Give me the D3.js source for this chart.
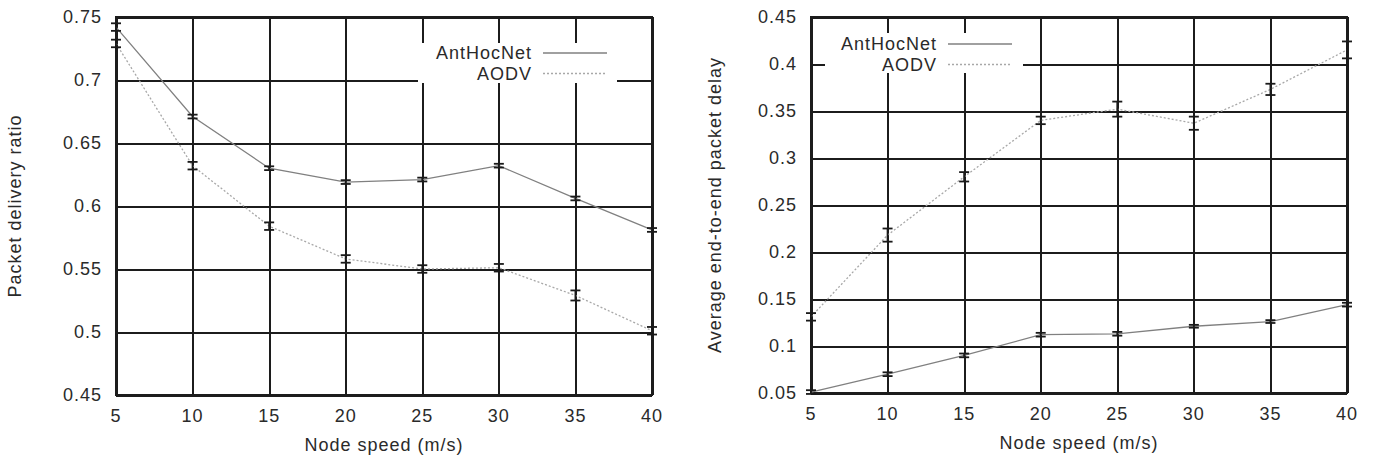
<!DOCTYPE html>
<html>
<head>
<meta charset="UTF-8">
<title>AntHocNet vs AODV</title>
<script src="https://cdn.jsdelivr.net/npm/d3@7"></script>
<style>
    body { margin: 0; background: #fff; }
    svg text {
        font-family: "Liberation Sans", Arial, sans-serif;
        font-size: 18px;
        letter-spacing: 1px;
        fill: #2a2a2a;
    }
    .grid line { stroke: #1c1c1c; stroke-width: 2px; shape-rendering: crispEdges; }
    .grid path { display: none; }
    .frame { fill: none; stroke: #1c1c1c; stroke-width: 2px; shape-rendering: crispEdges; }
    .ant { fill: none; stroke: #808080; stroke-width: 1.3px; }
    .aodv { fill: none; stroke: #a8a8a8; stroke-width: 1.3px; stroke-dasharray: 2,2; }
    .err { stroke: #1a1a1a; stroke-width: 1.8px; fill: none; }
</style>
</head>
<body>
<script>
    // node speed (m/s)
    var speeds = [5, 10, 15, 20, 25, 30, 35, 40];

    // packet delivery ratio
    var pdrAnt = [0.742, 0.671, 0.630, 0.619, 0.621, 0.632, 0.606, 0.581];
    var pdrAntErr = [0.003, 0.0015, 0.0015, 0.0015, 0.0015, 0.0015, 0.0015, 0.0015];
    var pdrAodv = [0.729, 0.632, 0.584, 0.558, 0.550, 0.551, 0.529, 0.501];
    var pdrAodvErr = [0.003, 0.003, 0.003, 0.003, 0.003, 0.003, 0.004, 0.003];
    var pdrTicks = [0.45, 0.5, 0.55, 0.6, 0.65, 0.7, 0.75];

    // average end-to-end packet delay
    var delayAnt = [0.051, 0.070, 0.090, 0.112, 0.113, 0.121, 0.126, 0.144];
    var delayAntErr = [0.002, 0.002, 0.002, 0.002, 0.002, 0.0015, 0.0015, 0.002];
    var delayAodv = [0.131, 0.218, 0.280, 0.340, 0.352, 0.337, 0.373, 0.415];
    var delayAodvErr = [0.004, 0.007, 0.005, 0.004, 0.008, 0.007, 0.006, 0.009];
    var delayTicks = [0.05, 0.1, 0.15, 0.2, 0.25, 0.3, 0.35, 0.4, 0.45];

    var seriesNames = ["AntHocNet", "AODV"];

    var svg = d3.select("body").append("svg")
        .attr("width", 1380)
        .attr("height", 461);

    function drawChart(opt) {
        var width = 536, height = opt.height;
        var g = svg.append("g")
            .attr("transform", `translate(${opt.left},${opt.top})`);

        var x = d3.scaleLinear().domain([5, 40]).range([0, width]);
        var y = d3.scaleLinear().domain(opt.yDomain).range([height, 0]);

        // grid
        g.append("g")
            .attr("class", "grid")
            .call(d3.axisLeft(y).tickValues(opt.ticks).tickSize(-width).tickFormat(""));
        g.append("g")
            .attr("class", "grid")
            .attr("transform", `translate(0,${height})`)
            .call(d3.axisBottom(x).tickValues(speeds).tickSize(height).tickFormat(""))
            .selectAll("line").attr("y2", -height);

        // key box hides grid
        g.append("rect")
            .attr("x", opt.key.x).attr("y", opt.key.y)
            .attr("width", opt.key.w).attr("height", opt.key.h)
            .attr("fill", "#fff");

        g.append("rect").attr("class", "frame")
            .attr("width", width).attr("height", height);

        // tick labels
        g.selectAll(".ylab").data(opt.ticks).enter().append("text")
            .attr("x", -14).attr("y", (d) => y(d))
            .attr("dy", "0.35em")
            .attr("text-anchor", "end")
            .text((d) => d);
        g.selectAll(".xlab").data(speeds).enter().append("text")
            .attr("x", (d) => x(d)).attr("y", height + 27)
            .attr("text-anchor", "middle")
            .text((d) => d);

        g.append("text")
            .attr("x", width / 2).attr("y", height + 56)
            .attr("text-anchor", "middle")
            .text("Node speed (m/s)");
        g.append("text")
            .attr("transform", `translate(${opt.yTitleX},${height / 2}) rotate(-90)`)
            .attr("dy", "0.35em")
            .attr("text-anchor", "middle")
            .text(opt.yTitle);

        var line = d3.line()
            .x((d, i) => x(speeds[i]))
            .y((d) => y(d));

        function errorBars(vals, errs) {
            var eg = g.append("g");
            vals.forEach(function(v, i) {
                var cx = x(speeds[i]), y1 = y(v - errs[i]), y2 = y(v + errs[i]);
                eg.append("line").attr("class", "err")
                    .attr("x1", cx).attr("x2", cx).attr("y1", y1).attr("y2", y2);
                [y1, y2].forEach(function(yy) {
                    eg.append("line").attr("class", "err")
                        .attr("x1", cx - 5).attr("x2", cx + 5).attr("y1", yy).attr("y2", yy);
                });
            });
        }

        g.append("path").datum(opt.aodv).attr("class", "aodv").attr("d", line);
        g.append("path").datum(opt.ant).attr("class", "ant").attr("d", line);
        errorBars(opt.aodv, opt.aodvErr);
        errorBars(opt.ant, opt.antErr);

        // key
        var k = opt.key;
        seriesNames.forEach(function(name, i) {
            var ky = k.y + k.row0 + i * 20.5;
            g.append("text")
                .attr("x", k.textX).attr("y", ky)
                .attr("dy", "0.35em")
                .attr("text-anchor", "end")
                .text(name);
            g.append("line")
                .attr("class", i === 0 ? "ant" : "aodv")
                .attr("x1", k.textX + 11).attr("x2", k.textX + 75)
                .attr("y1", ky).attr("y2", ky);
        });
    }

    drawChart({
        left: 116, top: 17, height: 378,
        yDomain: [0.45, 0.75], ticks: pdrTicks,
        ant: pdrAnt, antErr: pdrAntErr, aodv: pdrAodv, aodvErr: pdrAodvErr,
        yTitle: "Packet delivery ratio", yTitleX: -101,
        key: {x: 302, y: 26, w: 199, h: 40, row0: 10, textX: 416}
    });

    drawChart({
        left: 811, top: 17, height: 376,
        yDomain: [0.05, 0.45], ticks: delayTicks,
        ant: delayAnt, antErr: delayAntErr, aodv: delayAodv, aodvErr: delayAodvErr,
        yTitle: "Average end-to-end packet delay", yTitleX: -96,
        key: {x: 14, y: 16, w: 198, h: 40, row0: 11, textX: 126}
    });
</script>
</body>
</html>
